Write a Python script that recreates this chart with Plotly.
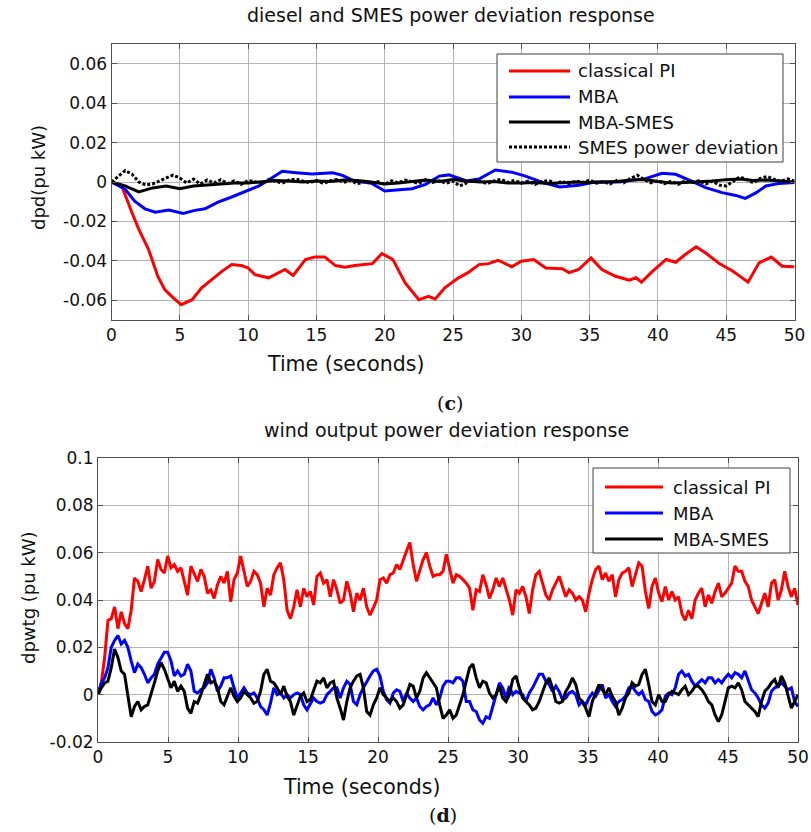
import numpy as np
import plotly.graph_objects as go

# ---------------- (c) diesel and SMES power deviation ----------------
T_PI_C = [0, 0.75, 1.5, 2, 2.7, 3.4, 3.9, 4.4, 5.1, 5.9, 6.6, 7.3, 8.1, 8.8, 9.5, 10, 10.5, 11.5, 12.2, 12.7,
          13.3, 14.2, 14.9, 15.6, 16.4, 17.1, 17.8, 18.3, 19.1, 19.8, 20.6, 21.5, 22.5, 23.2, 23.7, 24.4, 25.4,
          26.1, 26.9, 27.6, 28.3, 29.3, 30, 30.9, 31.8, 33, 33.5, 34.2, 35.1, 35.9, 36.9, 37.9, 38.4, 38.8,
          39.6, 40.6, 41.3, 42, 42.8, 43.5, 44.5, 45.5, 46.6, 47.4, 48.3, 49.1, 50]
PI_C = [0, -0.002, -0.0156, -0.024, -0.034, -0.048, -0.0546, -0.058, -0.0622, -0.0597, -0.0537, -0.0495,
        -0.0452, -0.0419, -0.0424, -0.0436, -0.047, -0.0486, -0.046, -0.0444, -0.0474, -0.0393, -0.038,
        -0.038, -0.0424, -0.0432, -0.0424, -0.0419, -0.0414, -0.0363, -0.0393, -0.0512, -0.0597, -0.058,
        -0.0593, -0.0537, -0.0486, -0.046, -0.0419, -0.0414, -0.0397, -0.043, -0.0402, -0.0393, -0.0436,
        -0.044, -0.046, -0.0444, -0.0385, -0.0444, -0.0478, -0.0498, -0.0486, -0.0508, -0.0453, -0.0393,
        -0.0407, -0.0368, -0.0329, -0.036, -0.0414, -0.0453, -0.0508, -0.041, -0.0381, -0.0427, -0.043]

T_MBA_C = [0, 1, 1.7, 2.45, 3.2, 4.2, 5.25, 6.1, 6.85, 7.8, 8.8, 9.8, 10.8, 11.5, 12.5, 13.5, 14.7, 16.2, 16.9,
           17.8, 19.05, 20, 20.8, 22, 23, 24, 24.7, 26, 26.9, 28.1, 29.3, 30.3, 31.6, 32.8, 34.2, 35.4, 37.1,
           38.1, 39.1, 40.3, 41.3, 42.3, 43.5, 44.7, 45.7, 46.4, 47.2, 47.9, 48.9, 50]
MBA_C = [0, -0.0037, -0.0097, -0.0136, -0.0153, -0.0142, -0.0159, -0.0144, -0.0136, -0.0102, -0.0076, -0.0049,
         -0.002, 0.001, 0.0054, 0.0047, 0.004, 0.0047, 0.0034, 0.0005, -0.0007, -0.0046, -0.0042, -0.0034,
         -0.0012, 0.003, 0.0036, 0.0005, 0.0015, 0.0061, 0.005, 0.003, -0.0003, -0.0025, -0.0017, 0, 0, 0.001,
         0.0017, 0.0044, 0.0039, 0.001, -0.0029, -0.0054, -0.0068, -0.0083, -0.0054, -0.002, -0.0007, -0.0003]

T_SMES_C = list(range(0, 51))
MBA_SMES_C = [0, -0.002, -0.005, -0.003, -0.002, -0.0034, -0.002, -0.0015, -0.001, -0.0005, -0.0005, 0, 0.0008,
              0.0005, 0, 0.0005, 0.0003, 0.001, 0.0008, 0, -0.001, -0.0005, 0.0003, 0.001, 0.0003, 0.0012,
              0.0005, 0, 0.0003, -0.0005, -0.0005, -0.0003, -0.0008, -0.0003, 0, -0.0003, 0, 0.0003, 0.001,
              0.0013, 0.0003, -0.0005, -0.0003, 0, 0.0005, 0.0012, 0.0015, 0.0008, 0.001, 0.0005, 0]

T_DEV_C = [i * 0.5 for i in range(101)]
SMES_DEV_C = [0, .003, .0058, .004, 0, -.0015, -.001, .0005, .002, .0035, .002, -.0005, .0015, -.001, .001,
              -.0005, .0012, -.0008, .0006, -.0012, .0008,
              .0002, -.001, .0012, .0004, -.0006, .001, .0015, .0005, -.0004, .0008,
              -.0008, .0006, .0012, -.0002, .0008, -.001, .0004, -.0006, .0002, -.0012,
              .0006, -.0004, .001, .0002, -.0008, .0012, -.0002, .0006, -.0006, .0004,
              -.002, -.0004, .0012, .0004, -.0008, .0006, .0014, -.0002, .0008, -.0006,
              .0004, -.0012, .0002, .0008, -.0008, .0004, -.001, .0006, -.0004, .001,
              -.0006, .0002, -.001, .0008, -.0004, .0018, .0034, .0012, -.0004, .0006,
              -.0008, .0004, -.0012, .0008, -.0002, .0006, -.001, .0004, -.0016, -.002,
              .0004, .0026, .0012, -.0004, .0018, .0028, .0014, .0002, .0016, .0004]

# ---------------- (d) wind output power deviation ----------------
PI_D = [0, .005, .0157, .0314, .0321, .0371, .0279, .035, .03, .0279, .0357, .0493, .0479, .0436, .0486, .0543,
        .045, .0479, .0571, .0529, .0514, .0586, .0536, .055, .0521, .0536, .0479, .0421, .0543, .0514, .0479,
        .0529, .05, .0429, .0443, .0407, .0464, .05, .0471, .0521, .0393, .0486, .0514, .0586, .0521, .0457,
        .0479, .0521, .0507, .0471, .0371, .045, .0421, .0507, .0536, .0557, .0486, .0357, .0321, .0371, .0443,
        .0371, .045, .0414, .0436, .0379, .05, .0514, .0471, .0486, .0414, .0486,
        .0443, .0386, .04, .0479, .0429, .035, .0429, .04, .045, .0371, .0336, .0371, .04, .0486, .0493, .0471,
        .0507, .0514, .055, .0529, .0564, .0607, .0643, .055, .0479, .0521, .0571, .06, .0543, .05, .0507, .0507,
        .0521, .0593, .0529, .0471, .0507, .05, .0486, .0471, .045, .0357, .0443, .0436, .0507, .0464, .0407,
        .0443, .0493, .0457, .0493, .0443, .04, .0336, .0443, .0429, .0457, .0414, .0343, .0443, .0507, .0521,
        .0471, .0421, .04, .0443, .0471, .05, .0457, .0414, .0443,
        .0429, .04, .0414, .04, .035, .0429, .0486, .0529, .0543, .0486, .0514, .0479, .0507, .0414, .0486,
        .0514, .0521, .0536, .0457, .0507, .0557, .0543, .0436, .0364, .0457, .0493, .0429, .0393, .0457, .04,
        .0436, .04, .0414, .0343, .0314, .0357, .0321, .04, .0429, .045, .0371, .0421, .0386, .0436, .0471,
        .0414, .0429, .045, .0471, .0543, .0521, .0521, .0479, .0457, .04, .0371, .0343, .0386, .0429, .0371,
        .0471, .0486, .04, .0443, .0521, .0457, .0414, .045, .0379]

MBA_D = [0, .005, .0071, .0114, .02, .0229, .025, .0214, .0229, .02, .0143, .0093, .0129, .0114, .0086, .005,
         .0071, .0086, .0129, .0157, .0179, .0179, .0143, .0079, .01, .0079, .0086, .0129, .01, .0014, .0007,
         .0021, .0029, .005, .0107, .0071, .0014, .0036, .0071, .0071, .0079, .0029, -.0014, .0007, .0029, .0007,
         0, .0007, -.0014, -.005, -.0064, -.0086, -.0036, .0029, 0, .0007, -.0014, 0, -.0014, 0, .0007, 0,
         -.0043, -.0064, -.0036, -.0014, -.0029, -.0036, -.0029, 0, .0014, .0029,
         .0029, -.0014, .0029, .0057, .0043, -.0029, -.0043, 0, .0029, .0057, .0079, .01, .0107, .0079, .0014,
         -.0021, -.0036, .0007, .0021, .0014, -.0029, .0007, -.0014, -.0029, -.0014, -.005, -.0064, -.005,
         -.0043, -.0014, -.0043, -.0014, .0036, .0057, .0057, .005, .0071, .0071, .0057, -.0029, -.0029, -.0064,
         -.0071, -.0107, -.0121, -.0093, -.01, -.005, 0, .005, .0029, -.0014, .0036, 0, .0014, .0007, 0, -.0029,
         .0007, .0029, .0057, .0086, .0086, .0057, .0043, .0014, .0036, .0014, -.0021, -.0014, .0007,
         .0014, 0, -.0043, -.0029, -.0043, -.0014, .0007, -.0007, .0021, .0043, -.0014, 0, -.0029, -.005, -.0029,
         -.0021, -.0007, .0029, .0036, .0014, 0, .0014, -.0021, -.0029, -.0071, -.0086, -.0079, -.0064, -.0007,
         .0007, 0, .0029, .0086, .01, .0079, .0086, .0057, .0036, .005, .0064, .005, .0071, .0071, .005, .0064,
         .005, .0071, .0086, .0071, .0093, .0086, .0071, .01, .0057, .0021, .0007, -.0014, -.0043, -.0057,
         -.0036, .0014, .0029, .0036, .005, .0036, .0021, .0029, -.0029, -.005]

MBA_SMES_D = [0, .0029, .005, .0057, .0114, .0193, .0157, .01, .0086, -.0014, -.0093, -.005, -.0029, -.0064,
              -.005, -.0043, 0, .005, .01, .0136, .0107, .0064, .0029, .0057, .0014, .0036, .0014, -.0057, -.0079,
              -.0029, -.0036, 0, .0043, .0086, .005, .0057, .0029, -.0029, -.0043, -.0007, .0029, -.0007, -.0029,
              -.0014, .0014, 0, -.0014, -.0036, -.0029, .0014, .0086, .0107, .0057, .005, .0029, 0, .0036, -.0007,
              -.0029, -.0086, -.0043, -.0007, .0007, -.0029, -.0021, .0014, .0057, .005, .0071, .0029, .005, .0057,
              -.0014, -.0057, -.0107, -.0029, .0029, .0057, .0079, .0086, .0029, -.0071, -.0086, -.0043, -.0014,
              .0029, 0, -.0014, -.0029, -.0014, -.0029, -.0057, -.0043, 0, .0043, .0036, -.0014, .0014, .0071,
              .0093, .0071, .005, .0029, -.0043, -.01, -.0086, -.0064, -.01, -.0086, -.0043, 0, .0057, .0114,
              .0129, .0071, .0029, .0057, .005, .0007, -.0014, 0, .0036, -.0014, -.0029, 0, .0064, .0079, .0029,
              -.0014, -.0029, -.0043, -.0064, -.0057, -.0029, .0014, .005, .0071, .0029, -.0029, -.0036, -.0029,
              .0014, .0036,
              .0071, .0043, -.0014, -.0029, -.0057, -.0093, -.0029, .0007, .0043, .0021, 0, .0029, -.0007, -.0029,
              -.0086, -.0057, -.0014, .0007, .005, .0036, .0043, .0086, .0107, .0043, -.0029, -.0043, 0, -.0029,
              -.0029, 0, .0014, .0007, 0, .0021, .0036, 0, .0014, .0036, .0036, .0021, 0, -.0029, -.0043, -.0086,
              -.0114, -.0086, -.0029, .0029, .0036, .0029, .005, .0021, -.0029, -.0043, -.0057, -.0071, -.0093,
              -.0029, .0014, .0029, .005, .0064, .0029, .0079, .005, 0, -.0057, -.0029, 0]

T_D = np.linspace(0, 50, len(PI_D))

TIME_TICKS = [0, 5, 10, 15, 20, 25, 30, 35, 40, 45, 50]
Y_TICKS_C = [-0.06, -0.04, -0.02, 0, 0.02, 0.04, 0.06]
Y_TEXT_C = ["-0.06", "-0.04", "-0.02", "0", "0.02", "0.04", "0.06"]
Y_TICKS_D = [-0.02, 0, 0.02, 0.04, 0.06, 0.08, 0.1]
Y_TEXT_D = ["-0.02", "0", "0.02", "0.04", "0.06", "0.08", "0.1"]

NAMES_C = ["classical PI", "MBA", "MBA-SMES", "SMES power deviation"]
NAMES_D = ["classical PI", "MBA", "MBA-SMES"]

RED, BLUE, BLACK = "#ff0000", "#0000ff", "#000000"
FONT = "DejaVu Sans"
TXT = "#111111"
W, H = 811, 832


def px_x(p):
    return p / W


def px_y(p):
    return 1 - p / H


STYLES_C = [dict(color=RED, width=3), dict(color=BLUE, width=3), dict(color=BLACK, width=3),
            dict(color=BLACK, width=3, dash="3px,2px")]
STYLES_D = [dict(color=RED, width=3), dict(color=BLUE, width=3), dict(color=BLACK, width=3)]

fig = go.Figure()
for xs, ys, nm, st in zip([T_PI_C, T_MBA_C, T_SMES_C, T_DEV_C], [PI_C, MBA_C, MBA_SMES_C, SMES_DEV_C],
                          NAMES_C, STYLES_C):
    fig.add_trace(go.Scatter(x=xs, y=ys, mode="lines", name=nm, line=st, xaxis="x", yaxis="y",
                             showlegend=False))
for ys, nm, st in zip([PI_D, MBA_D, MBA_SMES_D], NAMES_D, STYLES_D):
    fig.add_trace(go.Scatter(x=T_D, y=ys, mode="lines", name=nm, line=st, xaxis="x2", yaxis="y2",
                             showlegend=False))

axis_common = dict(showgrid=True, gridcolor="#b4b4b4", gridwidth=1, showline=True, linecolor="#505050",
                   linewidth=1, mirror="ticks", ticks="inside", ticklen=5, tickcolor="#505050", zeroline=False,
                   automargin=False, tickfont=dict(family=FONT, size=17, color=TXT))

fig.update_layout(
    width=W, height=H, margin=dict(l=0, r=0, t=0, b=0, autoexpand=False),
    paper_bgcolor="white", plot_bgcolor="white", showlegend=False,
    xaxis=dict(domain=[px_x(111.5), px_x(794.5)], range=[0, 50], tickvals=TIME_TICKS, anchor="y", **axis_common),
    yaxis=dict(domain=[px_y(320), px_y(44)], range=[-0.07, 0.07], tickvals=Y_TICKS_C, ticktext=Y_TEXT_C,
               anchor="x", **axis_common),
    xaxis2=dict(domain=[px_x(98), px_x(798)], range=[0, 50], tickvals=TIME_TICKS, anchor="y2", **axis_common),
    yaxis2=dict(domain=[px_y(742), px_y(458)], range=[-0.02, 0.1], tickvals=Y_TICKS_D, ticktext=Y_TEXT_D,
                anchor="x2", **axis_common),
)

# ---- legends (box, line samples, labels) ----
LEG_C = dict(box=(497, 54, 783, 162), line=(509, 570), text_x=576, rows=[71, 97, 122, 147])
LEG_D = dict(box=(593, 468, 790, 553), line=(605, 663), text_x=671, rows=[487, 513, 539])
for leg, names, styles in [(LEG_C, NAMES_C, STYLES_C), (LEG_D, NAMES_D, STYLES_D)]:
    x0, y0, x1, y1 = leg["box"]
    fig.add_shape(type="rect", xref="paper", yref="paper", x0=px_x(x0), x1=px_x(x1), y0=px_y(y1), y1=px_y(y0),
                  line=dict(color="#404040", width=1), fillcolor="white", layer="above")
    for ry, nm, st in zip(leg["rows"], names, styles):
        fig.add_shape(type="line", xref="paper", yref="paper", x0=px_x(leg["line"][0]), x1=px_x(leg["line"][1]),
                      y0=px_y(ry), y1=px_y(ry), line=st, layer="above")
        fig.add_annotation(text=nm, x=px_x(leg["text_x"]), y=px_y(ry), xref="paper", yref="paper",
                           showarrow=False, xanchor="left", yanchor="middle",
                           font=dict(family=FONT, size=18, color=TXT))

ann = [
    dict(text="diesel and SMES power deviation response", x=451, y=15, size=19),
    dict(text="Time (seconds)", x=345, y=364, size=20.5),
    dict(text="wind output power deviation response", x=446, y=430, size=19),
    dict(text="Time (seconds)", x=361, y=787, size=20.5),
]
for a in ann:
    fig.add_annotation(text=a["text"], x=px_x(a["x"]), y=px_y(a["y"]), xref="paper", yref="paper",
                       showarrow=False, xanchor="center", yanchor="middle",
                       font=dict(family=FONT, size=a["size"], color=TXT))
fig.add_annotation(text="dpd(pu kW)", x=px_x(38), y=px_y(178), xref="paper", yref="paper", showarrow=False,
                   textangle=-90, xanchor="center", yanchor="middle", font=dict(family=FONT, size=18, color=TXT))
fig.add_annotation(text="dpwtg (pu kW)", x=px_x(28), y=px_y(598), xref="paper", yref="paper", showarrow=False,
                   textangle=-90, xanchor="center", yanchor="middle", font=dict(family=FONT, size=18, color=TXT))
fig.add_annotation(text="(<b>c</b>)", x=px_x(450), y=px_y(403), xref="paper", yref="paper", showarrow=False,
                   xanchor="center", yanchor="middle", font=dict(family="DejaVu Serif", size=19, color=TXT))
fig.add_annotation(text="(<b>d</b>)", x=px_x(443), y=px_y(815), xref="paper", yref="paper", showarrow=False,
                   xanchor="center", yanchor="middle", font=dict(family="DejaVu Serif", size=19, color=TXT))

fig.write_html("out.html", config={"displayModeBar": False},
               post_script="document.body.style.margin='0';document.body.style.overflow='hidden';")
